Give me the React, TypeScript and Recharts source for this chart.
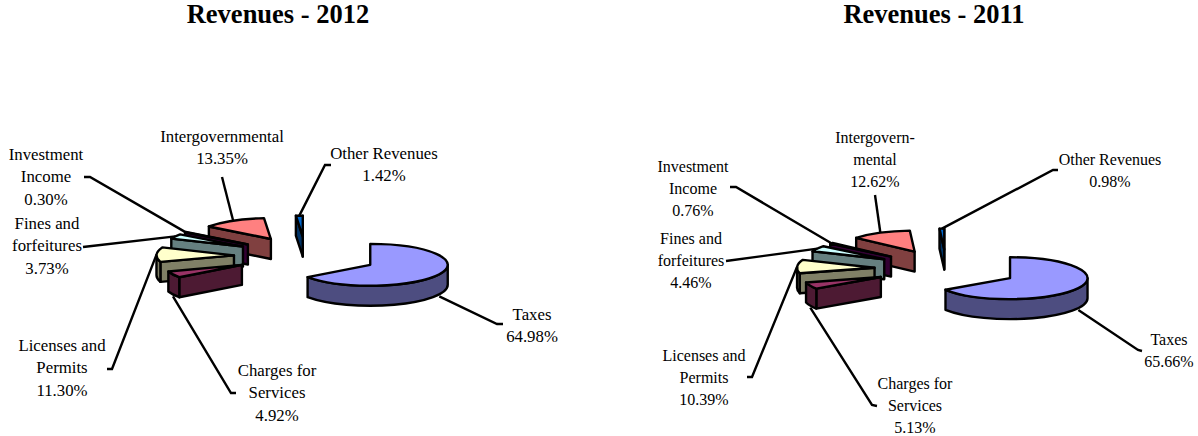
/**
 * Two exploded "3D" pie charts of revenue shares, drawn from recharts Pie sectors
 * with a custom shape that squashes each sector into an extruded ellipse wedge.
 */
import { PieChart, Pie } from "recharts";

// listed back-to-front so later slices paint over earlier ones
const categories = [
  "Other Revenues",
  "Intergovernmental",
  "Investment Income",
  "Fines and forfeitures",
  "Licenses and Permits",
  "Charges for Services",
  "Taxes",
];
const labels2012 = [
  ["Other Revenues"],
  ["Intergovernmental"],
  ["Investment", "Income"],
  ["Fines and", "forfeitures"],
  ["Licenses and", "Permits"],
  ["Charges for", "Services"],
  ["Taxes"],
];
const labels2011 = [
  ["Other Revenues"],
  ["Intergovern-", "mental"],
  ["Investment", "Income"],
  ["Fines and", "forfeitures"],
  ["Licenses and", "Permits"],
  ["Charges for", "Services"],
  ["Taxes"],
];
const values2012 = [1.42, 13.35, 0.3, 3.73, 11.3, 4.92, 64.98];
const values2011 = [0.98, 12.62, 0.76, 4.46, 10.39, 5.13, 65.66];

const topColors = ["#0066CC", "#FF8080", "#660066", "#CCFFFF", "#FFFFCC", "#993366", "#9999FF"];
const sideColors = ["#003366", "#804040", "#330033", "#668080", "#808066", "#4D1A33", "#4D4D80"];

// label centre x, first line centre y, leader elbow points (from text towards slice)
const layout2012 = [
  { x: 384, y: 153, elbow: [[331, 165], [325, 165]] },
  { x: 222, y: 136, elbow: [[222, 177]] },
  { x: 46, y: 154, elbow: [[84, 177], [90, 177]] },
  { x: 47, y: 223, elbow: [[83, 247]] },
  { x: 62, y: 345, elbow: [[107, 369], [112, 369]] },
  { x: 277, y: 370, elbow: [[236, 393], [231, 393]] },
  { x: 532, y: 314, elbow: [[503, 324], [497, 324]] },
];
const layout2011 = [
  { x: 1110, y: 159, elbow: [[1058, 170], [1053, 170]] },
  { x: 875, y: 137, elbow: [[875, 195]] },
  { x: 693, y: 166, elbow: [[730, 187], [736, 187]] },
  { x: 691, y: 238, elbow: [[726, 261]] },
  { x: 704, y: 355, elbow: [[747, 377], [752, 377]] },
  { x: 915, y: 383, elbow: [[877, 406], [872, 405]] },
  { x: 1169, y: 339, elbow: [[1142, 351], [1138, 350]] },
];

const data2012 = categories.map((name, i) => ({ name, value: values2012[i] }));
const data2011 = categories.map((name, i) => ({ name, value: values2011[i] }));

const SQUASH = 0.27; // ry / rx
const DEPTH = 20;
const EXPLODE = 0.93;
const LINE = 2.4;
const FONT = "'Liberation Serif', 'Times New Roman', serif";

const rad = (a: number) => (a * Math.PI) / 180;
const fmt = (p: number[]) => `${p[0].toFixed(2)} ${p[1].toFixed(2)}`;

function sliceApex(cx: number, cy: number, r: number, mid: number) {
  return [
    cx + EXPLODE * r * Math.cos(rad(mid)),
    cy - EXPLODE * r * SQUASH * Math.sin(rad(mid)),
  ];
}

function Wedge(props: any) {
  const { cx, cy, outerRadius: r, startAngle, endAngle, index } = props;
  const a0 = Math.min(startAngle, endAngle);
  const a1 = Math.max(startAngle, endAngle);
  const mid = (a0 + a1) / 2;
  const [ax, ay] = sliceApex(cx, cy, r, mid);
  const rim = (a: number, drop = 0) => [
    ax + r * Math.cos(rad(a)),
    ay - r * SQUASH * Math.sin(rad(a)) + drop,
  ];
  const arc = (from: number, to: number, drop = 0) => {
    const large = Math.abs(to - from) > 180 ? 1 : 0;
    const sweep = to > from ? 0 : 1;
    return `A ${r} ${r * SQUASH} 0 ${large} ${sweep} ${fmt(rim(to, drop))}`;
  };

  const top = topColors[index];
  const side = sideColors[index];
  const m = rim(mid);
  const walls: string[] = [];

  // radial cut faces: only those whose wedge lies above the edge on screen
  for (const a of [a0, a1]) {
    const p = rim(a);
    const dx = p[0] - ax;
    const lineY = Math.abs(dx) < 0.01 ? ay : ay + ((m[0] - ax) / dx) * (p[1] - ay);
    if (m[1] < lineY) {
      walls.push(
        `M ${ax} ${ay} L ${fmt(p)} L ${fmt(rim(a, DEPTH))} L ${ax} ${ay + DEPTH} Z`
      );
    }
  }

  // outer wall on the front half of the ellipse
  const w0 = Math.max(a0, 180);
  const w1 = Math.min(a1, 360);
  if (w1 > w0) {
    walls.push(
      `M ${fmt(rim(w0))} ${arc(w0, w1)} L ${fmt(rim(w1, DEPTH))} ${arc(w1, w0, DEPTH)} Z`
    );
  }

  return (
    <g>
      {walls.map((d, i) => (
        <path key={i} d={d} fill={side} stroke="#000" strokeWidth={LINE} strokeLinejoin="round" />
      ))}
      <path
        d={`M ${ax} ${ay} L ${fmt(rim(a0))} ${arc(a0, a1)} Z`}
        fill={top}
        stroke="#000"
        strokeWidth={LINE}
        strokeLinejoin="round"
      />
    </g>
  );
}

function makeLabel(lines: string[][], spots: typeof layout2012, lineStep: number, fontSize: number) {
  return (props: any) => {
    const { cx, cy, outerRadius: r, midAngle, index, value } = props;
    const spot = spots[index];
    const [ax, ay] = sliceApex(cx, cy, r, midAngle);
    const sn = Math.sin(rad(midAngle));
    // front slices are met at the bottom edge of their wall
    const drop = sn < -0.3 ? DEPTH + 2 : 0;
    const end = [ax + r * Math.cos(rad(midAngle)), ay - r * SQUASH * sn + drop];
    const pts = [...spot.elbow, end].map(fmt).join(" ");
    const rows = [...lines[index], `${value.toFixed(2)}%`];
    return (
      <g>
        <polyline points={pts} fill="none" stroke="#000" strokeWidth={LINE} />
        <text
          x={spot.x}
          y={spot.y}
          textAnchor="middle"
          fontFamily={FONT}
          fontSize={fontSize}
          fill="#000"
        >
          {rows.map((t, i) => (
            <tspan key={i} x={spot.x} y={spot.y + i * lineStep} dominantBaseline="central">
              {t}
            </tspan>
          ))}
        </text>
      </g>
    );
  };
}

export default function App() {
  return (
    <div style={{ position: "absolute", left: 0, top: 0, width: 1198, height: 436 }}>
      <PieChart width={1198} height={436} margin={{ top: 0, right: 0, bottom: 0, left: 0 }}>
        <text x={278} y={23} textAnchor="middle" fontFamily={FONT} fontWeight="bold" fontSize={26.5}>
          Revenues - 2012
        </text>
        <text x={934} y={23} textAnchor="middle" fontFamily={FONT} fontWeight="bold" fontSize={26.5}>
          Revenues - 2011
        </text>
        <Pie
          data={data2012}
          dataKey="value"
          nameKey="name"
          cx={306}
          cy={256}
          outerRadius={77.5}
          startAngle={90}
          endAngle={450}
          shape={Wedge}
          label={makeLabel(labels2012, layout2012, 22.5, 16.8)}
          labelLine={false}
          isAnimationActive={false}
        />
        <Pie
          data={data2011}
          dataKey="value"
          nameKey="name"
          cx={946.5}
          cy={269}
          outerRadius={77.5}
          startAngle={90}
          endAngle={450}
          shape={Wedge}
          label={makeLabel(labels2011, layout2011, 22, 16)}
          labelLine={false}
          isAnimationActive={false}
        />
      </PieChart>
    </div>
  );
}
